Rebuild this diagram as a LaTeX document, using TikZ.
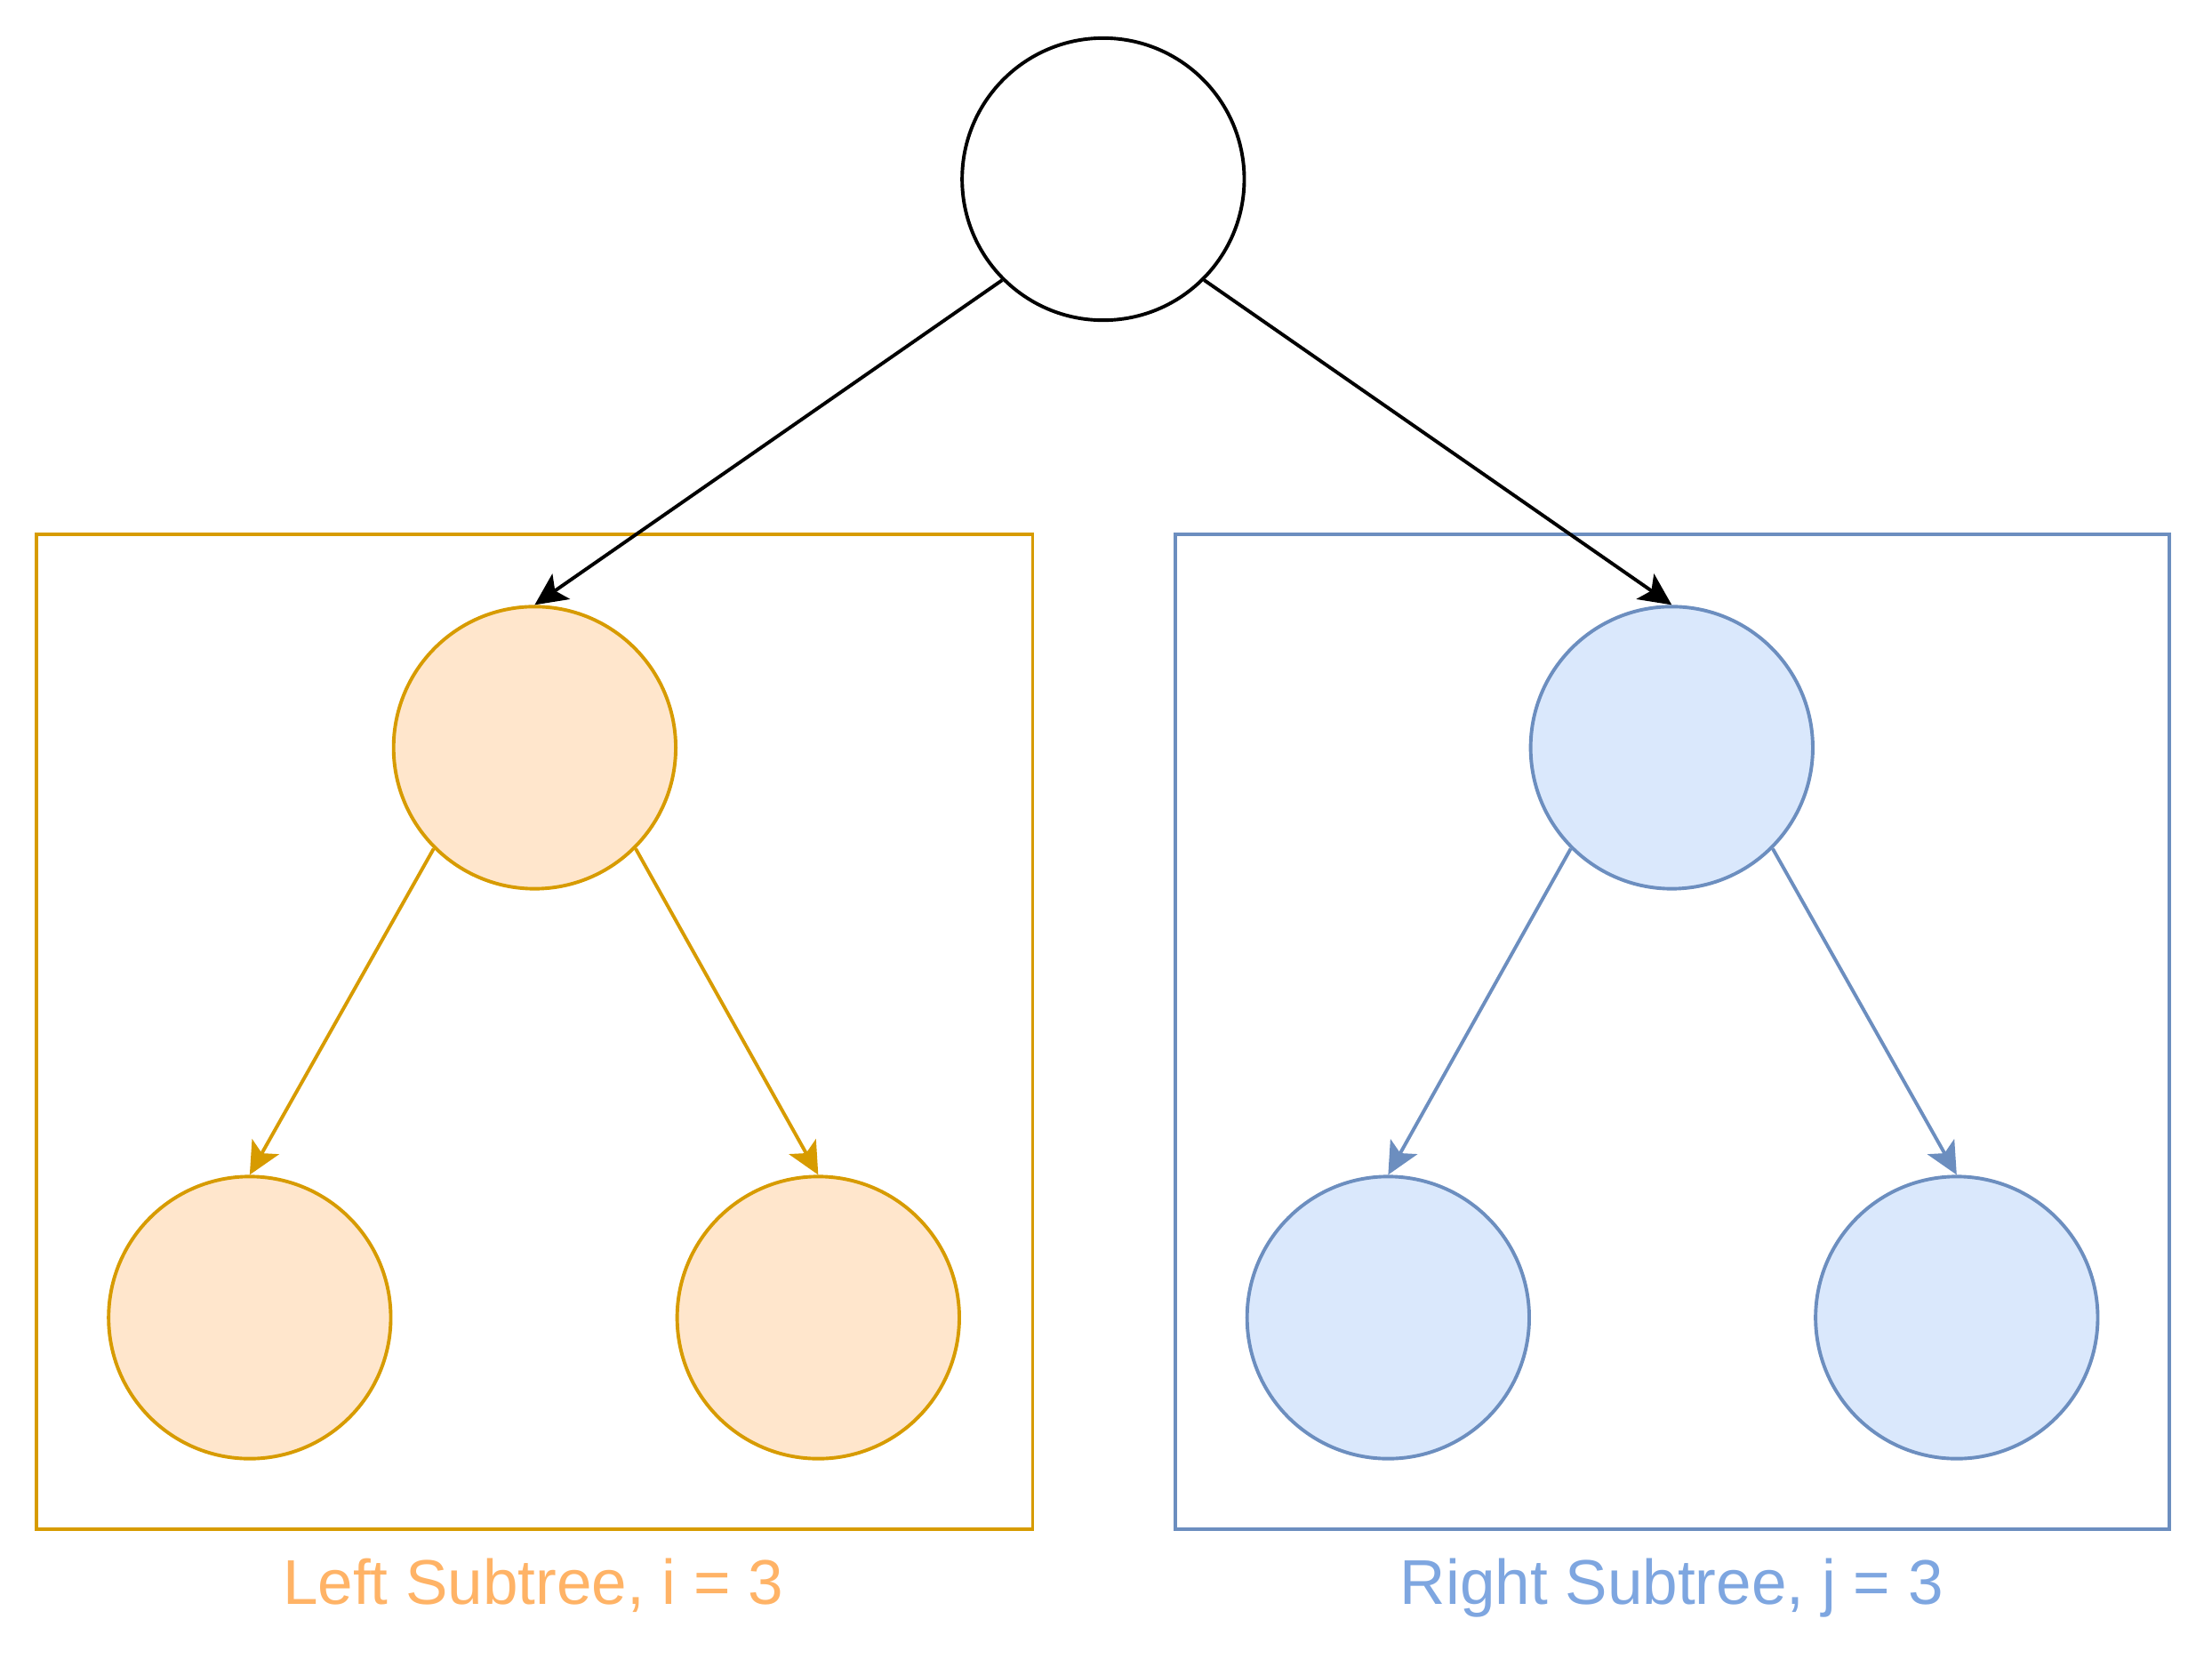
\documentclass[tikz,border=0pt]{standalone}
\usepackage{fontspec}
\setmainfont{Liberation Sans}
\usetikzlibrary{arrows.meta}

\definecolor{orangeline}{HTML}{D79B00}
\definecolor{orangefill}{HTML}{FFE6CC}
\definecolor{orangetext}{HTML}{FFB366}
\definecolor{blueline}{HTML}{6C8EBF}
\definecolor{bluefill}{HTML}{DAE8FC}
\definecolor{bluetext}{HTML}{7EA6E0}

\begin{document}
\begin{tikzpicture}[
    >={Stealth[length=6.5pt, width=6.2pt, inset=1.5pt]},
    line width=0.7pt,
    vertex/.style={draw, circle, minimum size=2cm, inner sep=0pt},
    leftnode/.style={vertex, draw=orangeline, fill=orangefill},
    rightnode/.style={vertex, draw=blueline, fill=bluefill},
    every node/.style={font=\fontsize{12.75}{15}\selectfont}
  ]
  \useasboundingbox (0,0) rectangle (15.68,-11.87);

  % subtree frames
  \draw[orangeline] (0.26,-3.79) rectangle (7.32,-10.84);
  \draw[blueline] (8.33,-3.79) rectangle (15.38,-10.84);

  \node[vertex] (root) at (7.82,-1.27) {};
  \node[leftnode] (L) at (3.79,-5.30) {};
  \node[leftnode] (LL) at (1.77,-9.34) {};
  \node[leftnode] (LR) at (5.80,-9.34) {};
  \node[rightnode] (R) at (11.85,-5.30) {};
  \node[rightnode] (RL) at (9.84,-9.34) {};
  \node[rightnode] (RR) at (13.87,-9.34) {};

  \draw[->] (root.-135) -- (L.north);
  \draw[->] (root.-45) -- (R.north);
  \draw[->, orangeline] (L.-135) -- (LL.north);
  \draw[->, orangeline] (L.-45) -- (LR.north);
  \draw[->, blueline] (R.-135) -- (RL.north);
  \draw[->, blueline] (R.-45) -- (RR.north);

  \node[anchor=base, text=orangetext] (lefttitle) at (3.78,-11.37) {Left Subtree, i = 3};
  \node[anchor=base, text=bluetext] (righttitle) at (11.85,-11.37) {Right Subtree, j = 3};
\end{tikzpicture}
\end{document}
